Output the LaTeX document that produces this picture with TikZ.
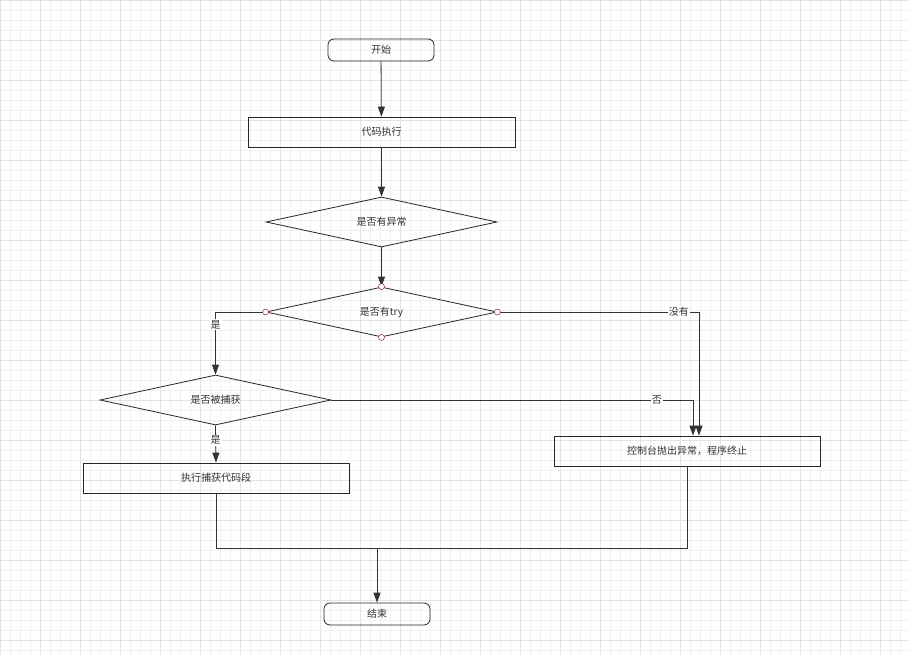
\documentclass[tikz,border=0pt]{standalone}
\usepackage{fontspec}
\setmainfont{Noto Sans CJK SC}
\usetikzlibrary{shapes.geometric,arrows.meta}
\begin{document}
\begin{tikzpicture}[x=1pt,y=-1pt,
  box/.style={draw=black!85,thick,minimum height=30pt,font=\fontsize{10}{12}\selectfont,text=black!80},
  rbox/.style={box,rounded corners=6pt,minimum height=22pt,minimum width=106pt},
  dia/.style={draw=black!85,thick,diamond,aspect=4.62,inner sep=0pt,minimum width=231pt,minimum height=50pt,font=\fontsize{10}{12}\selectfont,text=black!80},
  arr/.style={draw=black!80,thick,-{Triangle[length=10pt,width=7pt]}},
  ln/.style={draw=black!80,thick},
  lab/.style={fill=white,inner sep=1pt,font=\fontsize{10}{12}\selectfont,text=black!80},
  hnd/.style={circle,draw=red!50!black,fill=white,inner sep=0pt,minimum size=6pt}]
\useasboundingbox (0,0) rectangle (909,655);
\fill[white] (0,0) rectangle (909,655);
\draw[black!6,line width=0.4pt] (0,0) grid[step=10pt] (909,655);
\draw[black!11,line width=0.4pt] (0,0) grid[step=40pt] (909,655);
\node[rbox] (start) at (381,50) {开始};
\node[box,minimum width=267pt] (exec) at (381.5,132) {代码执行};
\node[dia] (exc) at (381.5,222) {是否有异常};
\node[dia] (try) at (381.5,312) {是否有try};
\node[dia] (catch) at (215.5,400) {是否被捕获};
\node[box,minimum width=266pt] (handle) at (216,478) {执行捕获代码段};
\node[box,minimum width=266pt] (con) at (687,451) {控制台抛出异常，程序终止};
\node[rbox] (end) at (377,614) {结束};
\coordinate (j) at (377,548);
\draw[arr] (start) -- (exec);
\draw[arr] (exec) -- (exc);
\draw[arr] (exc) -- (try);
\draw[arr] (try.west) -| node[lab,pos=0.6]{是} (catch.north);
\draw[arr] (try.east) -| node[lab,pos=0.45]{没有} ([xshift=12pt]con.north);
\draw[arr] (catch.east) -| node[lab,pos=0.45]{否} ([xshift=6pt]con.north);
\draw[arr] (catch.south) -- node[lab,pos=0.4]{是} (handle.north);
\draw[ln] (handle.south) |- (j);
\draw[ln] (con.south) |- (j);
\draw[arr] (j) -- (end.north);
\foreach \a in {north,south,east,west} \node[hnd] at (try.\a) {};
\end{tikzpicture}
\end{document}
